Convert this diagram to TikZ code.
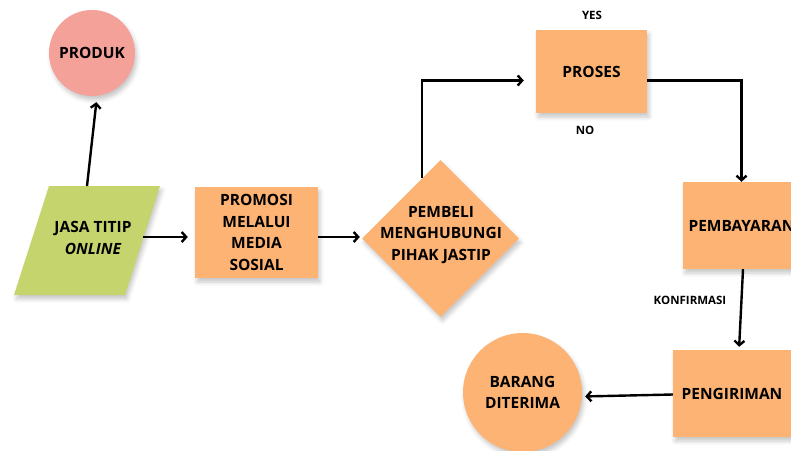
\documentclass[tikz,border=0pt]{standalone}
\usepackage{fontspec}
\setmainfont{Open Sans}
\usetikzlibrary{arrows.meta,shapes.geometric,shadows.blur}
\definecolor{boxorange}{HTML}{FCB373}
\definecolor{boxgreen}{HTML}{C6D46E}
\definecolor{boxpink}{HTML}{F4A19A}
\begin{document}
\begin{tikzpicture}[x=1pt,y=-1pt,
  every node/.style={font=\bfseries\fontsize{15.5}{21.5}\selectfont,align=center,inner sep=0pt},
  shade/.style={blur shadow={shadow xshift=2pt,shadow yshift=-4pt,shadow blur radius=4pt,shadow opacity=22}},
  proc/.style={fill=boxorange,shade},
  small/.style={font=\bfseries\fontsize{11.5}{14}\selectfont},
  arr/.style={-{Straight Barb[length=4.5pt,width=10pt]},line width=2.4pt}]
\useasboundingbox (0,0) rectangle (791,450);
\clip (0,0) rectangle (791,450);
\node[circle,fill=boxpink,minimum size=86pt,shade] (produk) at (92,53) {PRODUK};
% input parallelogram
\path[fill=boxgreen,shade] (49,186) -- (160,186) -- (125,295) -- (14,295) -- cycle;
\node (jasa) at (93,238) {JASA TITIP\\\itshape ONLINE};
\coordinate (jasatop) at (87,186);
\coordinate (jasaright) at (143,237);
\node[proc,minimum width=123pt,minimum height=91pt] (promosi) at (256.5,232.5) {PROMOSI\\MELALUI\\MEDIA\\SOSIAL};
\node[diamond,aspect=1,proc,minimum width=157pt,minimum height=157pt] (pembeli) at (440.5,238.5) {};
\node (pembelitext) at (441,235) {PEMBELI\\MENGHUBUNGI\\PIHAK JASTIP};
\node[proc,minimum width=111pt,minimum height=83pt] (proses) at (591.5,71.5) {PROSES};
\node[proc,minimum width=117pt,minimum height=87pt] (pembayaran) at (741.5,225.5) {PEMBAYARAN};
\node[proc,minimum width=118pt,minimum height=87pt] (pengiriman) at (732,393.5) {PENGIRIMAN};
\node[circle,proc,minimum size=119pt] (barang) at (522.5,392.5) {BARANG\\DITERIMA};
\node[small] (yes) at (592,15) {YES};
\node[small] (no) at (585,130) {NO};
\node[small] (konfirmasi) at (690,300) {KONFIRMASI};
\draw[arr,shorten >=6pt] (jasatop) -- ([xshift=5pt]produk.south);
\draw[arr,shorten >=7pt] (jasaright) -- (jasaright -| promosi.west);
\draw[arr,shorten >=2pt] (promosi.east |- jasaright) -- (jasaright -| pembeli.west);
\draw[arr,shorten >=12pt] (pembeli.107) |- ([yshift=-9pt]proses.west);
\draw[arr] ([yshift=-9pt]proses.east) -| (pembayaran.north);
\draw[arr,shorten >=3pt] ([xshift=1.5pt]pembayaran.south) -- ([xshift=7pt]pengiriman.north);
\draw[arr,shorten >=3pt] ([yshift=-1pt]pengiriman.west) -- ([yshift=-4pt]barang.east);
\end{tikzpicture}
\end{document}
